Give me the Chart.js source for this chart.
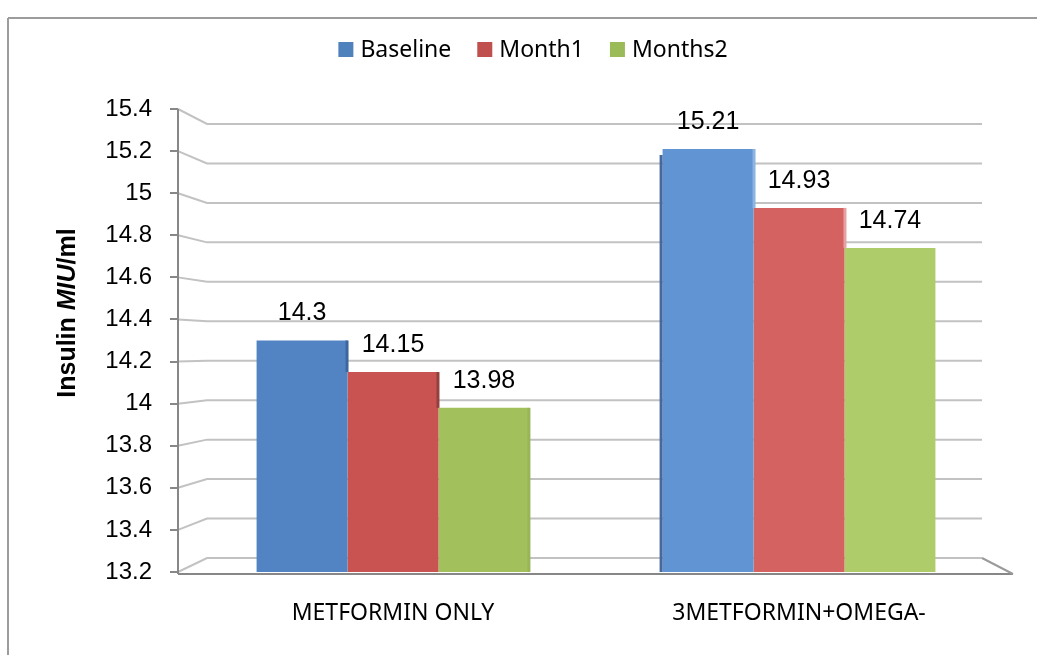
<!DOCTYPE html>
<html>
<head>
<meta charset="utf-8">
<script src="https://cdn.jsdelivr.net/npm/chart.js@4.4.1/dist/chart.umd.min.js"></script>
<style>
  html, body { margin: 0; padding: 0; background: #ffffff; }
  #wrap { width: 1037px; height: 655px; position: relative; }
</style>
</head>
<body>
<div id="wrap"><canvas id="c" width="1037" height="655"></canvas></div>
<script>
// Insulin levels per treatment group over time
const categories = ['METFORMIN ONLY', '3METFORMIN+OMEGA-'];
const seriesNames = ['Baseline', 'Month1', 'Months2'];
const baseline = [14.3, 15.21];
const month1 = [14.15, 14.93];
const months2 = [13.98, 14.74];
const yTickValues = [13.2, 13.4, 13.6, 13.8, 14, 14.2, 14.4, 14.6, 14.8, 15, 15.2, 15.4];
const yTickLabels = ['13.2', '13.4', '13.6', '13.8', '14', '14.2', '14.4', '14.6', '14.8', '15', '15.2', '15.4'];
const yTitleParts = ['Insulin ', 'MIU', '/ml'];

const LABEL_FONT = "'Liberation Sans', Arial, sans-serif";
const TEXT_FONT = "'Noto Sans', 'Open Sans', sans-serif";

// Back wall, axis and floor drawn in a light pseudo-3D style
const wallPlugin = {
  id: 'wall',
  beforeDraw(chart) {
    const ctx = chart.ctx;
    ctx.save();
    ctx.fillStyle = '#ffffff';
    ctx.fillRect(0, 0, chart.width, chart.height);
    ctx.strokeStyle = '#9c9c9c';
    ctx.lineWidth = 2;
    ctx.beginPath();
    ctx.moveTo(8, 18); ctx.lineTo(chart.width, 18);
    ctx.moveTo(8, 18); ctx.lineTo(8, chart.height);
    ctx.stroke();
    ctx.restore();
  },
  beforeDatasetsDraw(chart) {
    const ctx = chart.ctx, a = chart.chartArea, y = chart.scales.y;
    const axisX = a.left - 12, wallX = a.left + 17, wallRight = a.right - 20;
    const backTop = a.top + 15, backBottom = a.bottom - 14;
    const backY = py => backTop + (py - a.top) * (backBottom - backTop) / (a.bottom - a.top);
    ctx.save();
    ctx.strokeStyle = '#c2c2c2';
    ctx.lineWidth = 2;
    y.ticks.forEach(t => {
      const py = y.getPixelForValue(t.value);
      const by = backY(py);
      ctx.beginPath();
      ctx.moveTo(axisX, py);
      ctx.lineTo(wallX, by);
      ctx.lineTo(wallRight, by);
      ctx.stroke();
    });
    ctx.restore();
  },
  afterDatasetsDraw(chart) {
    const ctx = chart.ctx, a = chart.chartArea, y = chart.scales.y;
    const axisX = a.left - 12, wallRight = a.right - 20;
    const backBottom = a.bottom - 14;
    ctx.save();

    // thin shaded side faces on the bars
    const m0 = chart.getDatasetMeta(0).data, m1 = chart.getDatasetMeta(1).data, m2 = chart.getDatasetMeta(2).data;
    const floorY = a.bottom;
    const edge = (x, top, bottom, color) => { ctx.fillStyle = color; ctx.fillRect(x, top, 3, bottom - top); };
    edge(m0[0].x + m0[0].width / 2 - 2, m0[0].y, m1[0].y, '#3d66a0');
    edge(m1[0].x + m1[0].width / 2 - 2, m1[0].y, m2[0].y, '#93403e');
    edge(m2[0].x + m2[0].width / 2 - 2, m2[0].y, floorY, '#98b656');
    edge(m0[1].x - m0[1].width / 2 - 3, m0[1].y + 6, floorY, '#45699c');
    edge(m0[1].x + m0[1].width / 2 - 1, m0[1].y, m1[1].y, '#8db3e2');
    edge(m1[1].x + m1[1].width / 2 - 1, m1[1].y, m2[1].y, '#e6a0a0');

    ctx.strokeStyle = '#878787';
    ctx.lineWidth = 2;
    ctx.beginPath();
    ctx.moveTo(axisX, a.top);
    ctx.lineTo(axisX, a.bottom + 2);
    y.ticks.forEach(t => {
      const py = Math.round(y.getPixelForValue(t.value));
      ctx.moveTo(axisX - 8, py);
      ctx.lineTo(axisX, py);
    });
    ctx.moveTo(axisX, a.bottom + 2);
    ctx.lineTo(a.right + 11, a.bottom + 2);
    ctx.stroke();
    ctx.strokeStyle = '#9a9a9a';
    ctx.beginPath();
    ctx.moveTo(wallRight, backBottom);
    ctx.lineTo(a.right + 11, a.bottom + 2);
    ctx.stroke();

    // value labels above each bar
    ctx.fillStyle = '#000000';
    ctx.font = '25px ' + LABEL_FONT;
    ctx.textAlign = 'center';
    ctx.textBaseline = 'middle';
    chart.data.datasets.forEach((ds, di) => {
      const meta = chart.getDatasetMeta(di);
      meta.data.forEach((bar, i) => {
        ctx.fillText(String(ds.data[i]), bar.x, bar.y - 27);
      });
    });
    ctx.restore();
  },
  afterDraw(chart) {
    const ctx = chart.ctx;
    ctx.save();
    // y axis title with italic unit
    const fonts = ['bold 25px ' + LABEL_FONT, 'italic bold 25px ' + LABEL_FONT, 'bold 25px ' + LABEL_FONT];
    let widths = yTitleParts.map((p, i) => { ctx.font = fonts[i]; return ctx.measureText(p).width; });
    const total = widths.reduce((s, w) => s + w, 0);
    ctx.translate(68, 313);
    ctx.rotate(-Math.PI / 2);
    ctx.fillStyle = '#000000';
    ctx.textBaseline = 'middle';
    ctx.textAlign = 'left';
    let x = -total / 2;
    yTitleParts.forEach((p, i) => { ctx.font = fonts[i]; ctx.fillText(p, x, 0); x += widths[i]; });
    ctx.restore();

    // legend
    ctx.save();
    ctx.font = '23px ' + TEXT_FONT;
    ctx.textBaseline = 'middle';
    ctx.textAlign = 'left';
    const box = 15, gap = 7, spacing = 26;
    const items = chart.data.datasets.map(ds => ({ label: ds.label, color: ds.legendColor, w: ctx.measureText(ds.label).width }));
    const legW = items.reduce((s, it) => s + box + gap + it.w, 0) + spacing * (items.length - 1);
    let lx = 533 - legW / 2;
    const ly = 49.5;
    items.forEach(it => {
      ctx.fillStyle = it.color;
      ctx.fillRect(lx, ly - box / 2, box, box);
      ctx.fillStyle = '#000000';
      ctx.fillText(it.label, lx + box + gap, ly + 1);
      lx += box + gap + it.w + spacing;
    });
    ctx.restore();
  }
};

const seriesValues = [baseline, month1, months2];
const seriesColors = [
  ['#5284c4', '#6094d2'],
  ['#c85351', '#d46260'],
  ['#a2c15c', '#aecd6a']
];
const legendColors = ['#4f81bd', '#c0504d', '#9bbb59'];

new Chart(document.getElementById('c'), {
  type: 'bar',
  data: {
    labels: categories,
    datasets: seriesNames.map((name, i) => ({
      label: name,
      data: seriesValues[i],
      backgroundColor: seriesColors[i],
      legendColor: legendColors[i],
      borderWidth: 0,
      barPercentage: 1,
      categoryPercentage: 0.672
    }))
  },
  options: {
    responsive: false,
    animation: false,
    devicePixelRatio: 1,
    layout: { padding: { left: 40, right: 35, top: 109, bottom: 23 } },
    plugins: { legend: { display: false }, tooltip: { enabled: false } },
    scales: {
      x: {
        grid: { display: false, drawTicks: false },
        border: { display: false },
        ticks: { color: '#000000', font: { family: TEXT_FONT, size: 23 }, padding: 28, maxRotation: 0 },
        afterFit(s) { s.height = 60; }
      },
      y: {
        min: 13.2,
        max: 15.4,
        grid: { display: false, drawTicks: false },
        border: { display: false },
        afterBuildTicks(s) { s.ticks = yTickValues.map(v => ({ value: v })); },
        ticks: {
          color: '#000000',
          font: { family: LABEL_FONT, size: 24 },
          padding: 38,
          callback: (v, i) => yTickLabels[i]
        },
        afterFit(s) { s.width = 150; }
      }
    }
  },
  plugins: [wallPlugin]
});
</script>
</body>
</html>
